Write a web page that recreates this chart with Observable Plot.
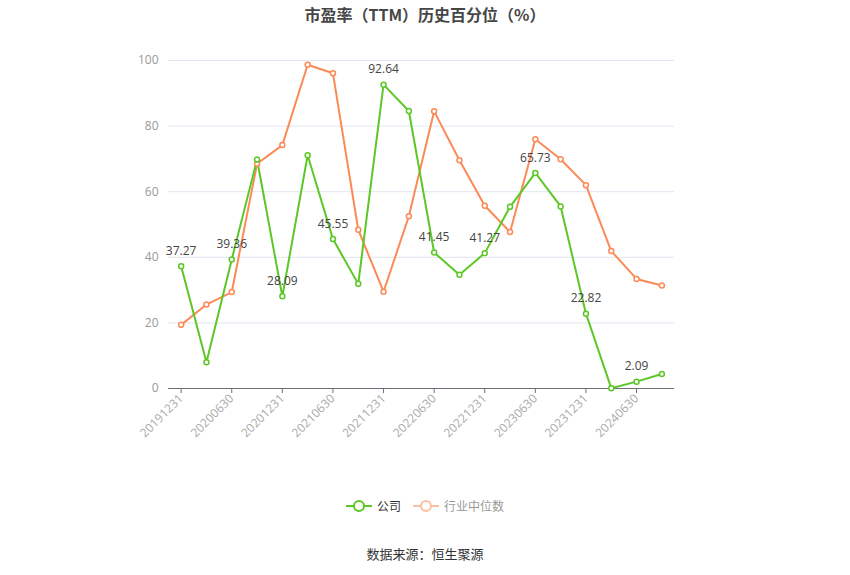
<!DOCTYPE html>
<html>
<head>
<meta charset="utf-8">
<script src="https://cdn.jsdelivr.net/npm/d3@7"></script>
<script src="https://cdn.jsdelivr.net/npm/@observablehq/plot@0.6"></script>
<style>
  body { margin: 0; background: #fff; font-family: "Noto Sans CJK SC", "Open Sans", sans-serif; }
  #wrap { position: relative; width: 850px; height: 575px; overflow: hidden; }
  #title { position: absolute; top: 2px; left: 0; width: 850px; text-align: center; font-size: 16px; font-weight: bold; color: #464646; line-height: 24px; }
  #chart { position: absolute; top: 30px; left: 0; }
  #legend { position: absolute; top: 496px; left: 0; width: 850px; display: flex; justify-content: center; gap: 12px; font-size: 12px; line-height: 20px; }
  .item { display: flex; align-items: center; gap: 5px; }
  #source { position: absolute; top: 544px; left: 0; width: 850px; text-align: center; font-size: 13px; color: #333; line-height: 20px; }
</style>
</head>
<body>
<div id="wrap">
  <div id="title">市盈率（TTM）历史百分位（%）</div>
  <div id="chart"></div>
  <div id="legend">
    <div class="item">
      <svg width="26" height="14"><line x1="0" y1="7" x2="26" y2="7" stroke="#5cc726" stroke-width="2"/><circle cx="13" cy="7" r="5" fill="#fff" stroke="#5cc726" stroke-width="2"/></svg>
      <span style="color:#333">公司</span>
    </div>
    <div class="item">
      <svg width="26" height="14"><line x1="0" y1="7" x2="26" y2="7" stroke="#fdbfa3" stroke-width="2"/><circle cx="13" cy="7" r="5" fill="#fff" stroke="#fdbfa3" stroke-width="2"/></svg>
      <span style="color:#999">行业中位数</span>
    </div>
  </div>
  <div id="source">数据来源：恒生聚源</div>
</div>
<script>
const dates = ["20191231","20200331","20200630","20200930","20201231","20210331","20210630","20210930","20211231","20220331","20220630","20220930","20221231","20230331","20230630","20230930","20231231","20240331","20240630","20240930"];
const company = [37.27, 8.0, 39.36, 69.8, 28.09, 71.1, 45.55, 31.9, 92.64, 84.6, 41.45, 34.7, 41.27, 55.4, 65.73, 55.5, 22.82, 0.1, 2.09, 4.4];
const industry = [19.4, 25.6, 29.4, 68.5, 74.2, 98.7, 96.1, 48.4, 29.5, 52.5, 84.5, 69.6, 55.7, 47.7, 76.0, 69.9, 62.0, 41.9, 33.4, 31.4];
const labelIdx = [0, 2, 4, 6, 8, 10, 12, 14, 16, 18];
const xTicks = ["20191231","20200630","20201231","20210630","20211231","20220630","20221231","20230630","20231231","20240630"];
const yTicks = [0, 20, 40, 60, 80, 100];

const comp = dates.map((d, i) => ({date: d, v: company[i]}));
const ind = dates.map((d, i) => ({date: d, v: industry[i]}));
const labels = labelIdx.map(i => comp[i]);

const green = "#5cc726", orange = "#fc8a57";

const plot = Plot.plot({
  width: 850,
  height: 440,
  marginTop: 30,
  marginBottom: 82,
  marginLeft: 168,
  marginRight: 176,
  style: {fontFamily: "'Open Sans', 'Noto Sans', sans-serif", fontSize: "12px", background: "#fff"},
  x: {type: "point", domain: dates, padding: 0.5, round: false, label: null},
  y: {domain: [0, 100], label: null},
  marks: [
    Plot.gridY(yTicks, {stroke: "#e0e6f1", strokeOpacity: 1, strokeWidth: 1}),
    Plot.axisY(yTicks, {tickSize: 0, tickPadding: 10, fill: "#999", fontSize: 12}),
    Plot.axisX(xTicks, {tickSize: 5, stroke: "#6e7079", tickRotate: -45, fill: "#aaa", fontSize: 12, textAnchor: "end", tickPadding: 3}),
    Plot.ruleY([0], {stroke: "#6e7079", strokeWidth: 1}),
    Plot.line(ind, {x: "date", y: "v", stroke: orange, strokeWidth: 2}),
    Plot.line(comp, {x: "date", y: "v", stroke: green, strokeWidth: 2}),
    Plot.dot(ind, {x: "date", y: "v", r: 2.5, fill: "#fff", stroke: orange, strokeWidth: 1.5}),
    Plot.dot(comp, {x: "date", y: "v", r: 2.5, fill: "#fff", stroke: green, strokeWidth: 1.5}),
    Plot.text(labels, {x: "date", y: "v", text: d => d.v.toFixed(2), dy: -15, fill: "#444", fontSize: 12})
  ]
});
document.getElementById("chart").appendChild(plot);
</script>
</body>
</html>
